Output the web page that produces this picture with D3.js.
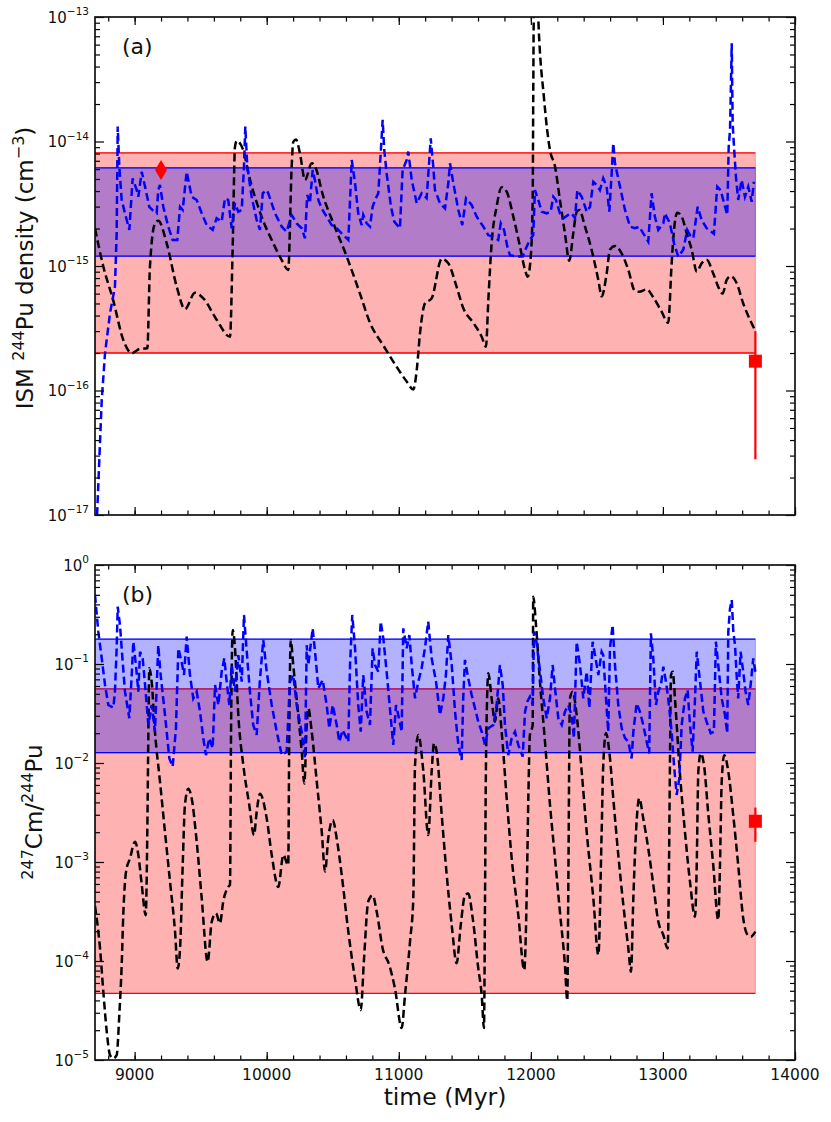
<!DOCTYPE html>
<html>
<head>
<meta charset="utf-8">
<script src="https://cdn.jsdelivr.net/npm/d3@7"></script>
<style>
  body { margin: 0; background: #fff; }
  svg { font-family: "DejaVu Sans", sans-serif; }
</style>
</head>
<body>
<svg id="chart" width="831" height="1122"></svg>
<script>
// ---- data ----
const timeDomain = [8700, 14000];
const timeMajorTicks = [9000, 10000, 11000, 12000, 13000, 14000];
const densityExponents = [-13, -14, -15, -16, -17];
const ratioExponents = [0, -1, -2, -3, -4, -5];

// panel (a): ISM 244Pu density, black = one model, blue = other model
const densityBlack = [
  [8700, 2.0e-15], [8763, 9.9e-16], [8838, 5.3e-16], [8914, 2.55e-16], [8978, 1.99e-16],
  [9041, 2.16e-16], [9096, 2.18e-16], [9116, 9.9e-16], [9154, 2.2e-15], [9179, 2.31e-15],
  [9243, 1.52e-15], [9319, 6.8e-16], [9381, 4.5e-16], [9457, 6.1e-16], [9520, 5.5e-16],
  [9621, 3.7e-16], [9722, 2.7e-16], [9742, 1.35e-15], [9760, 9.1e-15], [9773, 1.01e-14],
  [9823, 8.5e-15], [9861, 5.6e-15], [9955, 2.6e-15], [10050, 1.52e-15], [10113, 1.12e-15],
  [10163, 9.3e-16], [10189, 6.3e-15], [10201, 9.9e-15], [10222, 1.04e-14], [10252, 8.0e-15],
  [10290, 4.9e-15], [10341, 6.7e-15], [10366, 6.3e-15], [10429, 3.6e-15], [10505, 2.2e-15],
  [10606, 1.19e-15], [10706, 6.0e-16], [10782, 3.5e-16], [10883, 2.3e-16], [10984, 1.55e-16],
  [11060, 1.18e-16], [11110, 1.02e-16], [11136, 1.46e-16], [11161, 2.9e-16], [11198, 5.0e-16],
  [11249, 5.5e-16], [11325, 1.14e-15], [11375, 1.05e-15], [11438, 6.8e-16], [11488, 4.6e-16],
  [11564, 3.5e-16], [11628, 2.7e-16], [11660, 2.25e-16], [11678, 5.3e-16], [11703, 1.52e-15],
  [11741, 3.0e-15], [11779, 4.3e-15], [11817, 3.95e-15], [11867, 2.5e-15], [11918, 1.43e-15],
  [11956, 9.3e-16], [11976, 8.2e-16], [12001, 1.26e-15], [12014, 3.4e-15], [12018, 2.2e-14],
  [12022, 1.0e-13], [12038, 4.0e-13], [12056, 1.0e-13], [12100, 2.2e-14], [12145, 8.5e-15],
  [12183, 6.3e-15], [12220, 3.4e-15], [12258, 1.83e-15], [12291, 1.1e-15], [12321, 1.83e-15],
  [12347, 2.73e-15], [12367, 2.82e-15], [12410, 2.07e-15], [12460, 1.35e-15], [12511, 7.7e-16],
  [12536, 5.7e-16], [12574, 8.7e-16], [12599, 1.35e-15], [12637, 1.45e-15], [12688, 1.26e-15],
  [12738, 9.3e-16], [12788, 6.3e-16], [12821, 6.2e-16], [12877, 6.5e-16], [12927, 5.6e-16],
  [12990, 4.3e-16], [13040, 3.5e-16], [13066, 1.05e-15], [13084, 1.95e-15], [13109, 2.68e-15],
  [13142, 2.49e-15], [13180, 1.83e-15], [13218, 1.35e-15], [13256, 9.0e-16], [13293, 1.05e-15],
  [13331, 1.12e-15], [13381, 8.7e-16], [13419, 6.8e-16], [13452, 6.0e-16], [13482, 7.7e-16],
  [13513, 8.3e-16], [13558, 7.3e-16], [13608, 5.0e-16], [13659, 3.7e-16], [13700, 3.0e-16]
];

const densityBlue = [
  [8712, 8e-18], [8751, 8.4e-17], [8776, 2.0e-16], [8814, 4.2e-16], [8851, 6.8e-16],
  [8864, 1.83e-15], [8872, 1.32e-14], [8884, 6.3e-15], [8902, 3.39e-15], [8927, 2.65e-15],
  [8960, 1.95e-15], [8985, 5.06e-15], [9016, 4.07e-15], [9028, 3.6e-15], [9054, 5.72e-15],
  [9079, 4.34e-15], [9111, 2.99e-15], [9147, 2.73e-15], [9167, 2.65e-15], [9179, 4.07e-15],
  [9192, 4.48e-15], [9217, 2.99e-15], [9255, 2.07e-15], [9288, 1.62e-15], [9323, 1.62e-15],
  [9344, 2.99e-15], [9364, 2.82e-15], [9394, 5.72e-15], [9432, 3.6e-15], [9470, 3.39e-15],
  [9508, 2.65e-15], [9546, 2.13e-15], [9591, 1.95e-15], [9621, 2.42e-15], [9659, 2.27e-15],
  [9684, 3.5e-15], [9709, 3.39e-15], [9735, 2.01e-15], [9760, 3.19e-15], [9785, 2.73e-15],
  [9811, 2.82e-15], [9828, 6.3e-15], [9838, 1.32e-14], [9853, 6.3e-15], [9886, 3.6e-15],
  [9924, 2.34e-15], [9949, 1.95e-15], [9970, 3.84e-15], [10000, 4.07e-15], [10012, 3.84e-15],
  [10063, 2.65e-15], [10114, 2.07e-15], [10151, 1.89e-15], [10189, 2.57e-15], [10227, 2.2e-15],
  [10265, 2.01e-15], [10290, 1.67e-15], [10307, 3.72e-15], [10327, 3.19e-15], [10348, 5.9e-15],
  [10365, 4.91e-15], [10391, 3.39e-15], [10416, 2.9e-15], [10454, 2.49e-15], [10492, 2.13e-15],
  [10530, 2.01e-15], [10580, 1.77e-15], [10618, 1.62e-15], [10644, 7.1e-15], [10669, 4.62e-15],
  [10693, 2.65e-15], [10719, 2.13e-15], [10731, 2.57e-15], [10757, 2.2e-15], [10782, 2.07e-15],
  [10802, 2.99e-15], [10820, 3.39e-15], [10845, 3.84e-15], [10863, 8.0e-15], [10878, 1.49e-14],
  [10890, 8.55e-15], [10908, 5.56e-15], [10941, 2.99e-15], [10966, 2.27e-15], [11009, 2.01e-15],
  [11029, 5.9e-15], [11060, 7.1e-15], [11072, 8.3e-15], [11098, 4.91e-15], [11136, 3.19e-15],
  [11173, 3.84e-15], [11211, 3.5e-15], [11231, 7.1e-15], [11242, 1.06e-14], [11261, 6.3e-15],
  [11274, 4.07e-15], [11312, 3.19e-15], [11350, 2.9e-15], [11375, 4.62e-15], [11388, 6.68e-15],
  [11413, 4.62e-15], [11451, 2.82e-15], [11481, 2.13e-15], [11509, 3.5e-15], [11552, 3.09e-15],
  [11590, 2.49e-15], [11640, 2.07e-15], [11678, 1.77e-15], [11716, 1.72e-15], [11753, 1.62e-15],
  [11772, 2.2e-15], [11797, 1.95e-15], [11822, 1.43e-15], [11842, 1.22e-15], [11893, 1.19e-15],
  [11938, 1.19e-15], [11963, 1.39e-15], [11993, 1.62e-15], [12018, 1.77e-15], [12031, 4.07e-15],
  [12056, 3.39e-15], [12082, 2.73e-15], [12120, 2.65e-15], [12150, 2.73e-15], [12170, 3.6e-15],
  [12190, 3.39e-15], [12220, 2.65e-15], [12246, 2.42e-15], [12283, 2.57e-15], [12309, 2.65e-15],
  [12334, 2.42e-15], [12352, 4.07e-15], [12385, 3.6e-15], [12423, 2.73e-15], [12448, 2.99e-15],
  [12473, 4.75e-15], [12498, 4.48e-15], [12523, 4.07e-15], [12548, 5.06e-15], [12574, 4.34e-15],
  [12594, 2.73e-15], [12612, 5.56e-15], [12624, 9.7e-15], [12637, 6.68e-15], [12675, 4.34e-15],
  [12713, 2.82e-15], [12751, 2.07e-15], [12788, 2.01e-15], [12821, 2.07e-15], [12851, 1.83e-15],
  [12889, 1.57e-15], [12914, 3.84e-15], [12939, 2.49e-15], [12965, 1.95e-15], [13003, 2.2e-15],
  [13015, 2.65e-15], [13053, 2.2e-15], [13084, 1.52e-15], [13116, 1.19e-15], [13154, 1.35e-15],
  [13184, 1.95e-15], [13205, 1.77e-15], [13230, 1.67e-15], [13263, 2.99e-15], [13293, 2.34e-15],
  [13331, 2.01e-15], [13386, 1.81e-15], [13411, 4.34e-15], [13437, 4.07e-15], [13470, 2.99e-15],
  [13487, 2.57e-15], [13498, 9.1e-15], [13508, 1.24e-14], [13521, 6.15e-14], [13528, 1.4e-14],
  [13538, 9.1e-15], [13553, 5.2e-15], [13570, 3.39e-15], [13596, 4.91e-15], [13621, 3.6e-15],
  [13646, 4.34e-15], [13672, 3.28e-15], [13689, 4.75e-15]
];

// panel (b): 247Cm/244Pu ratio
const ratioBlack = [
  [8700, 3.6e-4], [8738, 1.34e-4], [8763, 4.9e-5], [8789, 1.93e-5], [8814, 1.12e-5],
  [8839, 1.04e-5], [8864, 1.12e-5], [8884, 2.85e-5], [8902, 9.1e-5], [8914, 2.9e-4],
  [8935, 8.0e-4], [8965, 1.09e-3], [9003, 1.6e-3], [9028, 1.18e-3], [9054, 5.9e-4],
  [9084, 2.9e-4], [9096, 2.0e-3], [9104, 0.0207], [9111, 0.0905], [9129, 0.0663],
  [9154, 0.0207], [9192, 6.5e-3], [9230, 2.0e-3], [9268, 6.3e-4], [9306, 1.98e-4],
  [9326, 8.4e-5], [9344, 1.34e-4], [9364, 9.3e-4], [9381, 3.77e-3], [9406, 5.5e-3],
  [9432, 4.4e-3], [9470, 1.6e-3], [9508, 4.3e-4], [9553, 9.8e-5], [9584, 2.5e-4],
  [9616, 3.03e-4], [9646, 2.4e-4], [9671, 4.0e-4], [9709, 5.6e-4], [9722, 5.9e-4],
  [9730, 0.0207], [9743, 0.22], [9760, 0.144], [9785, 0.0305], [9823, 9.5e-3],
  [9868, 3.77e-3], [9904, 1.87e-3], [9924, 3.2e-3], [9949, 4.9e-3], [10000, 2.76e-3],
  [10038, 1.18e-3], [10088, 5.6e-4], [10126, 1.18e-3], [10163, 9.3e-4], [10171, 0.0207],
  [10182, 0.175], [10201, 0.0977], [10239, 0.0305], [10265, 0.013], [10285, 6.2e-3],
  [10303, 0.0242], [10315, 0.0357], [10341, 0.0207], [10379, 6.5e-3], [10417, 2.0e-3],
  [10442, 8.0e-4], [10466, 1.73e-3], [10500, 2.65e-3], [10530, 1.73e-3], [10568, 7.4e-4],
  [10618, 1.98e-4], [10668, 6.7e-5], [10712, 3.2e-5], [10737, 1.06e-4], [10769, 4.0e-4],
  [10802, 4.6e-4], [10833, 3.15e-4], [10878, 1.34e-4], [10928, 9.1e-5], [10971, 5.3e-5],
  [11022, 2.1e-5], [11047, 4.5e-5], [11085, 1.57e-4], [11110, 4.3e-4], [11123, 9.5e-3],
  [11148, 0.0192], [11186, 8.2e-3], [11223, 1.87e-3], [11249, 8.2e-3], [11267, 0.0158],
  [11287, 0.013], [11325, 3.0e-3], [11363, 7.4e-4], [11401, 2.3e-4], [11438, 9.5e-5],
  [11469, 2.3e-4], [11501, 4.6e-4], [11526, 4.8e-4], [11560, 2.7e-4], [11602, 8.4e-5],
  [11628, 4.5e-5], [11645, 2.1e-5], [11653, 4.3e-4], [11660, 9.5e-3], [11678, 0.0805],
  [11703, 0.045], [11728, 0.0261], [11753, 0.045], [11779, 0.0207], [11817, 4.4e-3],
  [11855, 1.09e-3], [11905, 2.9e-4], [11950, 8.1e-5], [11968, 4.3e-4], [11981, 4.4e-3],
  [11993, 0.0192], [12014, 0.0242], [12018, 0.479], [12039, 0.248], [12069, 0.0663],
  [12107, 0.0164], [12145, 3.77e-3], [12183, 1.09e-3], [12220, 3.15e-4], [12258, 9.1e-5],
  [12276, 4.0e-5], [12283, 4.3e-4], [12296, 0.045], [12317, 0.0525], [12347, 0.0305],
  [12385, 8.2e-3], [12423, 2.0e-3], [12473, 4.3e-4], [12511, 1.15e-4], [12536, 2.0e-3],
  [12548, 9.5e-3], [12569, 0.02], [12594, 0.013], [12624, 4.4e-3], [12662, 1.18e-3],
  [12700, 3.7e-4], [12738, 1.34e-4], [12758, 7.8e-5], [12776, 4.3e-4], [12796, 2.0e-3],
  [12821, 4.4e-3], [12851, 2.76e-3], [12889, 1.37e-3], [12927, 5.9e-4], [12965, 2.5e-4],
  [13003, 1.83e-4], [13036, 1.34e-4], [13046, 9.3e-4], [13053, 9.5e-3], [13061, 0.0774],
  [13074, 0.0836], [13091, 0.045], [13124, 9.5e-3], [13167, 2.0e-3], [13205, 6.3e-4],
  [13243, 2.8e-4], [13256, 9.3e-4], [13268, 8.2e-3], [13286, 0.0125], [13311, 9.5e-3],
  [13344, 3.0e-3], [13381, 9.3e-4], [13419, 2.6e-4], [13432, 9.3e-4], [13445, 6.5e-3],
  [13464, 0.012], [13495, 8.2e-3], [13532, 3.0e-3], [13570, 9.3e-4], [13608, 2.7e-4],
  [13634, 1.9e-4], [13664, 1.76e-4], [13700, 1.98e-4]
];

const ratioBlue = [
  [8700, 0.50], [8725, 0.212], [8751, 0.114], [8776, 0.0614], [8801, 0.0385],
  [8839, 0.0362], [8851, 0.0525], [8864, 0.144], [8872, 0.379], [8889, 0.248],
  [8902, 0.144], [8927, 0.0525], [8960, 0.0283], [8978, 0.0774], [8990, 0.168],
  [9010, 0.0977], [9028, 0.0525], [9041, 0.133], [9061, 0.114], [9079, 0.0614],
  [9104, 0.0242], [9129, 0.0385], [9154, 0.0207], [9179, 0.155], [9197, 0.0774],
  [9230, 0.0305], [9263, 0.0111], [9288, 9.2e-3], [9313, 0.0224], [9331, 0.144],
  [9356, 0.105], [9374, 0.0774], [9394, 0.189], [9419, 0.0774], [9444, 0.045],
  [9470, 0.0525], [9495, 0.033], [9520, 0.0178], [9540, 0.012], [9565, 0.0178],
  [9591, 0.0141], [9609, 0.0614], [9634, 0.0385], [9659, 0.0836], [9679, 0.114],
  [9697, 0.0663], [9717, 0.0385], [9735, 0.0977], [9760, 0.0525], [9785, 0.123],
  [9811, 0.0663], [9828, 0.313], [9849, 0.133], [9873, 0.0525], [9898, 0.0242],
  [9924, 0.0192], [9949, 0.07], [9974, 0.175], [10000, 0.0836], [10038, 0.0385],
  [10076, 0.0207], [10114, 0.012], [10151, 0.013], [10176, 0.0663], [10201, 0.0774],
  [10227, 0.0385], [10265, 0.0207], [10290, 0.0111], [10303, 0.155], [10315, 0.0977],
  [10348, 0.229], [10366, 0.133], [10391, 0.0568], [10424, 0.069], [10454, 0.0385],
  [10474, 0.0224], [10500, 0.0385], [10530, 0.0242], [10550, 0.0164], [10575, 0.0215],
  [10618, 0.0164], [10631, 0.0977], [10648, 0.313], [10669, 0.144], [10693, 0.0385],
  [10712, 0.0207], [10731, 0.0774], [10757, 0.033], [10782, 0.0242], [10802, 0.144],
  [10820, 0.0977], [10845, 0.0836], [10863, 0.268], [10883, 0.182], [10908, 0.0836],
  [10933, 0.0357], [10958, 0.0152], [10979, 0.0385], [10996, 0.0305], [11022, 0.0207],
  [11034, 0.229], [11060, 0.144], [11080, 0.196], [11098, 0.0977], [11123, 0.045],
  [11148, 0.0663], [11173, 0.0905], [11198, 0.144], [11223, 0.268], [11249, 0.114],
  [11282, 0.0663], [11312, 0.0305], [11337, 0.045], [11357, 0.0774], [11375, 0.196],
  [11401, 0.0977], [11426, 0.033], [11451, 0.0152], [11476, 0.0107], [11488, 0.045],
  [11501, 0.11], [11526, 0.0717], [11552, 0.0486], [11577, 0.0357], [11602, 0.0261],
  [11628, 0.0207], [11653, 0.0152], [11678, 0.0224], [11716, 0.0242], [11741, 0.0385],
  [11766, 0.0977], [11787, 0.0614], [11804, 0.0242], [11829, 0.012], [11855, 0.0178],
  [11880, 0.0207], [11905, 0.0152], [11938, 0.0116], [11956, 0.033], [11973, 0.0416],
  [11993, 0.0468], [12014, 0.0385], [12024, 0.212], [12039, 0.182], [12064, 0.0977],
  [12094, 0.045], [12120, 0.0283], [12145, 0.045], [12165, 0.0977], [12183, 0.0568],
  [12208, 0.0283], [12234, 0.0242], [12258, 0.033], [12283, 0.0385], [12309, 0.0305],
  [12326, 0.0178], [12347, 0.168], [12372, 0.0977], [12397, 0.045], [12423, 0.0836],
  [12443, 0.0357], [12468, 0.168], [12486, 0.123], [12511, 0.0774], [12536, 0.133],
  [12548, 0.123], [12569, 0.045], [12586, 0.0207], [12599, 0.144], [12619, 0.248],
  [12637, 0.0977], [12662, 0.0385], [12688, 0.0224], [12713, 0.0178], [12738, 0.0164],
  [12763, 0.0111], [12776, 0.0207], [12801, 0.0401], [12826, 0.033], [12851, 0.0242],
  [12877, 0.0164], [12896, 0.0125], [12909, 0.204], [12927, 0.114], [12947, 0.0385],
  [12965, 0.0525], [12985, 0.0614], [13003, 0.094], [13023, 0.0663], [13040, 0.045],
  [13066, 0.0207], [13084, 9.5e-3], [13104, 4.75e-3], [13124, 7.0e-3], [13142, 0.0242],
  [13167, 0.045], [13187, 0.0546], [13205, 0.0242], [13225, 0.013], [13243, 0.045],
  [13256, 0.133], [13281, 0.0663], [13306, 0.033], [13331, 0.0261], [13362, 0.02],
  [13386, 0.0207], [13401, 0.168], [13419, 0.0977], [13445, 0.045], [13470, 0.0305],
  [13487, 0.02], [13495, 0.212], [13508, 0.365], [13521, 0.443], [13533, 0.212],
  [13546, 0.155], [13558, 0.0774], [13570, 0.045], [13588, 0.133], [13608, 0.0836],
  [13626, 0.0525], [13646, 0.0385], [13664, 0.0614], [13684, 0.114], [13700, 0.0836]
];

// shaded ranges and measured points
const bandEnd = 13700;
const densityRedBand = [2.0e-16, 8.1e-15];
const densityBlueBand = [1.2e-15, 6.15e-15];
const ratioRedBand = [4.7e-5, 0.056];
const ratioBlueBand = [0.0127, 0.178];
const densityDiamond = { t: 9200, v: 5.9e-15 };
const densityMeasured = { t: 13700, v: 1.72e-16, lo: 2.8e-17, hi: 3.0e-16 };
const ratioMeasured = { t: 13700, v: 2.58e-3, lo: 1.6e-3, hi: 3.55e-3 };

// ---- drawing ----
const svg = d3.select("#chart");
const left = 95, right = 795;
const x = d3.scaleLinear().domain(timeDomain).range([left, right]);
const xMinor = d3.range(8800, 14001, 200);

function minorLogTicks(lo, hi) {
  const out = [];
  for (let e = lo; e < hi; e++) {
    for (let m = 2; m <= 9; m++) out.push(m * Math.pow(10, e));
  }
  return out;
}

function drawPanel(cfg) {
  const y = d3.scaleLog().domain(cfg.domain).range([cfg.bottom, cfg.top]);
  const g = svg.append("g");

  const clipId = "clip-" + cfg.id;
  svg.append("clipPath").attr("id", clipId)
    .append("rect")
    .attr("x", left).attr("y", cfg.top)
    .attr("width", right - left).attr("height", cfg.bottom - cfg.top);

  const plot = g.append("g").attr("clip-path", `url(#${clipId})`);

  function band(range, color) {
    plot.append("rect")
      .attr("x", x(timeDomain[0]))
      .attr("y", y(range[1]))
      .attr("width", x(bandEnd) - x(timeDomain[0]))
      .attr("height", y(range[0]) - y(range[1]))
      .attr("fill", color).attr("fill-opacity", 0.3)
      .attr("stroke", color).attr("stroke-opacity", 0.3);
    range.forEach((v) => {
      plot.append("line")
        .attr("x1", x(timeDomain[0])).attr("x2", x(bandEnd))
        .attr("y1", y(v)).attr("y2", y(v))
        .attr("stroke", color).attr("stroke-width", 1.3);
    });
  }
  band(cfg.redBand, "#ff0000");
  band(cfg.blueBand, "#0000ff");

  const lineBlack = d3.line()
    .x((d) => x(d[0])).y((d) => y(d[1]))
    .curve(d3.curveMonotoneX);
  const lineBlue = d3.line()
    .x((d) => x(d[0])).y((d) => y(d[1]));

  plot.append("path").datum(cfg.black)
    .attr("fill", "none").attr("stroke", "#000")
    .attr("stroke-width", 2.5).attr("stroke-dasharray", "8,4")
    .attr("d", lineBlack);
  plot.append("path").datum(cfg.blue)
    .attr("fill", "none").attr("stroke", "#0000ff")
    .attr("stroke-width", 2.5).attr("stroke-dasharray", "8,4")
    .attr("d", lineBlue);

  // measured value with error bar
  const m = cfg.measured;
  g.append("line")
    .attr("x1", x(m.t)).attr("x2", x(m.t))
    .attr("y1", y(m.lo)).attr("y2", y(m.hi))
    .attr("stroke", "#ff0000").attr("stroke-width", 2.2);
  g.append("rect")
    .attr("x", x(m.t) - 6.5).attr("y", y(m.v) - 6.5)
    .attr("width", 13).attr("height", 13)
    .attr("fill", "#ff0000");

  if (cfg.diamond) {
    g.append("path")
      .attr("transform", `translate(${x(cfg.diamond.t)},${y(cfg.diamond.v)})`)
      .attr("d", "M0,-10L6,0L0,10L-6,0Z")
      .attr("fill", "#ff0000");
  }

  // ticks, inward on all four sides
  const major = cfg.exponents.map((e) => Math.pow(10, e));
  const minor = minorLogTicks(d3.min(cfg.exponents), d3.max(cfg.exponents));
  const tickAxes = [
    [d3.axisBottom(x).tickValues(timeMajorTicks).tickSize(-8), `translate(0,${cfg.bottom})`],
    [d3.axisBottom(x).tickValues(xMinor).tickSize(-4.5), `translate(0,${cfg.bottom})`],
    [d3.axisTop(x).tickValues(timeMajorTicks).tickSize(-8), `translate(0,${cfg.top})`],
    [d3.axisTop(x).tickValues(xMinor).tickSize(-4.5), `translate(0,${cfg.top})`],
    [d3.axisLeft(y).tickValues(major).tickSize(-9), `translate(${left},0)`],
    [d3.axisLeft(y).tickValues(minor).tickSize(-5), `translate(${left},0)`],
    [d3.axisRight(y).tickValues(major).tickSize(-9), `translate(${right},0)`],
    [d3.axisRight(y).tickValues(minor).tickSize(-5), `translate(${right},0)`]
  ];
  tickAxes.forEach(([axis, tr]) => {
    const a = g.append("g").attr("transform", tr)
      .call(axis.tickFormat(""));
    a.select(".domain").remove();
    a.selectAll("line").attr("stroke-width", 1.2);
  });

  g.append("rect")
    .attr("x", left).attr("y", cfg.top)
    .attr("width", right - left).attr("height", cfg.bottom - cfg.top)
    .attr("fill", "none").attr("stroke", "#111").attr("stroke-width", 1.7);

  // y tick labels as 10^n
  cfg.exponents.forEach((e) => {
    const t = g.append("text")
      .attr("x", 89).attr("y", y(Math.pow(10, e)) + 5.5)
      .attr("text-anchor", "end")
      .attr("font-size", 15).attr("fill", "#111");
    t.append("tspan").text("10");
    t.append("tspan").attr("dy", -7.5).attr("font-size", 10.5)
      .text(e < 0 ? "\u2212" + -e : String(e));
  });

  // panel letter
  g.append("text")
    .attr("x", 122).attr("y", cfg.top + 37)
    .attr("font-size", 22).attr("fill", "#111")
    .text(cfg.letter);

  return y;
}

drawPanel({
  id: "a", top: 17, bottom: 515, domain: [1e-17, 1e-13],
  exponents: densityExponents, letter: "(a)",
  redBand: densityRedBand, blueBand: densityBlueBand,
  black: densityBlack, blue: densityBlue,
  measured: densityMeasured, diamond: densityDiamond
});

drawPanel({
  id: "b", top: 565, bottom: 1060, domain: [1e-5, 1],
  exponents: ratioExponents, letter: "(b)",
  redBand: ratioRedBand, blueBand: ratioBlueBand,
  black: ratioBlack, blue: ratioBlue,
  measured: ratioMeasured
});

// x tick labels under panel (b)
svg.append("g").selectAll("text")
  .data(timeMajorTicks)
  .join("text")
  .attr("x", (d) => x(d)).attr("y", 1080)
  .attr("text-anchor", "middle")
  .attr("font-size", 15.5).attr("fill", "#111")
  .text((d) => d);

svg.append("text")
  .attr("x", (left + right) / 2).attr("y", 1105)
  .attr("text-anchor", "middle")
  .attr("font-size", 23.5).attr("fill", "#111")
  .text("time (Myr)");

// y axis titles
const titleA = svg.append("text")
  .attr("transform", "translate(33,268) rotate(-90)")
  .attr("text-anchor", "middle")
  .attr("font-size", 23).attr("fill", "#111");
titleA.append("tspan").text("ISM ");
titleA.append("tspan").attr("dy", -9).attr("font-size", 16).text("244");
titleA.append("tspan").attr("dy", 9).text("Pu density (cm");
titleA.append("tspan").attr("dy", -9).attr("font-size", 16).text("\u22123");
titleA.append("tspan").attr("dy", 9).text(")");

const titleB = svg.append("text")
  .attr("transform", "translate(42,812) rotate(-90)")
  .attr("text-anchor", "middle")
  .attr("font-size", 23).attr("fill", "#111");
titleB.append("tspan").attr("dy", -9).attr("font-size", 16).text("247");
titleB.append("tspan").attr("dy", 9).text("Cm/");
titleB.append("tspan").attr("dy", -9).attr("font-size", 16).text("244");
titleB.append("tspan").attr("dy", 9).text("Pu");
</script>
</body>
</html>
